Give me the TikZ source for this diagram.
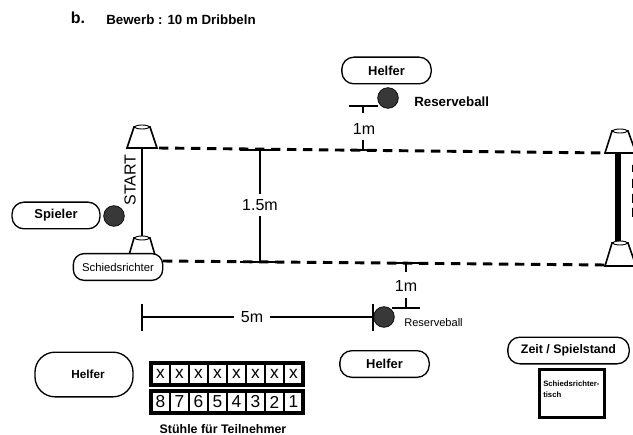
\documentclass[tikz,border=0pt]{standalone}
\usepackage{fontspec}
\setmainfont{Liberation Sans}
\tikzset{
  x=0.75pt,y=-0.75pt,
  pill/.style={draw,line width=1pt,rounded corners=9pt,inner sep=0pt,align=center,font=\bfseries\fontsize{9.7}{11}\selectfont,fill=white},
  ballnode/.style={circle,fill=black!78,draw=black,line width=.5pt,minimum size=15.5pt,inner sep=0pt},
  dashline/.style={line width=2.2pt,dash pattern=on 7pt off 5pt},
  thin line/.style={line width=1pt},
  cone/.style={draw,line width=1.2pt,fill=white},
  lab/.style={inner sep=0pt,font=\fontsize{12}{13}\selectfont},
  seat/.style={draw,line width=1.6pt,outer sep=0pt,minimum width=14.25pt,minimum height=16.5pt,inner sep=0pt,font=\fontsize{13}{14}\selectfont}
}
\begin{document}
\begin{tikzpicture}
\useasboundingbox[fill=white] (0,0) rectangle (633,435);
\clip (0,0) rectangle (633,435);
\node[inner sep=0pt,font=\bfseries\fontsize{12}{14}\selectfont] (b) at (78,18) {b.};
\node[inner sep=0pt,anchor=west,font=\bfseries\fontsize{10}{12}\selectfont] (title) at (106,19.5) {Bewerb : 10 m Dribbeln};
% field lines
\coordinate (tl) at (159,148); \coordinate (tr) at (605,153);
\coordinate (bl) at (163,261); \coordinate (br) at (605,265);
\draw[dashline] (tl) -- (tr);
\draw[dashline] (bl) -- (br);
% posts and cones
\coordinate (p1) at (142,148); \coordinate (p2) at (142,237);
\draw[line width=2pt] (p1) -- (p2);
\coordinate (p3) at (618,154); \coordinate (p4) at (618,243);
\draw[line width=3.8pt] (p3) -- (p4);
\draw[cone] (127,148) -- (134,127) -- (150,127) -- (157,148) -- cycle;
\draw[line width=.7pt,fill=white] (142,127) ellipse (7 and 2);
\draw[cone] (127,262) -- (134,238) -- (150,238) -- (157,262) -- cycle;
\draw[line width=.7pt,fill=white] (142,238) ellipse (7 and 2);
\draw[cone] (605,153) -- (612,131) -- (628,131) -- (636,153) -- cycle;
\draw[line width=.7pt,fill=white] (620,131) ellipse (7 and 2);
\draw[cone] (605,266) -- (612,243) -- (628,243) -- (636,266) -- cycle;
\draw[line width=.7pt,fill=white] (620,243) ellipse (7 and 2);
\node[rotate=90,inner sep=0pt,font=\fontsize{12}{13}\selectfont] (start) at (130,180) {START};
% pills
\node[pill,minimum width=66pt,minimum height=20pt] (spieler) at (56,215.5) {Spieler};
\node[ballnode] (ball1) at (114,216) {};
\node[pill,minimum width=67pt,minimum height=20pt,font=\fontsize{8.5}{10}\selectfont,rounded corners=8pt] (schied) at (118,267) {Schiedsrichter};
\node[pill,minimum width=67pt,minimum height=20pt] (helfer1) at (386.5,70.5) {Helfer};
\node[pill,minimum width=67pt,minimum height=20pt] (helfer2) at (384.5,364) {Helfer};
\node[pill,minimum width=73.5pt,minimum height=33.5pt,rounded corners=15pt,font=\bfseries\fontsize{8.8}{10}\selectfont] (helfer3) at (84,374.5) {\hspace{6pt}Helfer};
\node[pill,minimum width=91pt,minimum height=20pt,font=\bfseries\fontsize{9.3}{11}\selectfont] (zeit) at (568.5,350.5) {Zeit / Spielstand};
% top 1m
\node[ballnode] (ball2) at (388,98) {};
\node[inner sep=0pt,anchor=west,font=\bfseries\fontsize{10}{12}\selectfont] (rb1) at (414,101.5) {Reserveball};
\coordinate (a1) at (349,106); \coordinate (a2) at (378,106);
\coordinate (a3) at (363,106); \coordinate (a4) at (363,113);
\draw[thin line] (a1) -- (a2) (a3) -- (a4);
\node[lab] (m1) at (364,129) {1m};
\coordinate (a5) at (363,140); \coordinate (a6) at (363,150);
\coordinate (a7) at (350,150); \coordinate (a8) at (377,150);
\draw[thin line] (a5) -- (a6) (a7) -- (a8);
% bottom 1m
\coordinate (c1) at (406,263); \coordinate (c2) at (406,272);
\coordinate (c3) at (392,263); \coordinate (c4) at (420,263);
\draw[thin line] (c1) -- (c2) (c3) -- (c4);
\node[lab] (m2) at (406,286) {1m};
\coordinate (c5) at (406,298); \coordinate (c6) at (406,308);
\coordinate (c7) at (392,308); \coordinate (c8) at (420,308);
\draw[thin line] (c5) -- (c6) (c7) -- (c8);
\node[ballnode] (ball3) at (384,317) {};
\node[inner sep=0pt,anchor=west,font=\fontsize{8.3}{10}\selectfont] (rb2) at (404,322.5) {Reserveball};
% 5m
\coordinate (d1) at (142,304); \coordinate (d2) at (142,331);
\coordinate (d3) at (373,304); \coordinate (d4) at (373,331);
\coordinate (d5) at (142,317); \coordinate (d6) at (373,317);
\draw[thin line] (d1) -- (d2) (d3) -- (d4);
\node[lab,fill=white,inner xsep=5pt] (m5) at (252,317) {5m};
\draw[thin line] (d5) -- (m5) (m5) -- (d6);
% 1.5m
\coordinate (e1) at (260,150); \coordinate (e2) at (260,262);
\coordinate (e3) at (240,150); \coordinate (e4) at (280,150);
\coordinate (e5) at (240,262); \coordinate (e6) at (280,262);
\draw[thin line] (e3) -- (e4) (e5) -- (e6);
\node[lab,fill=white,inner ysep=4pt] (m15) at (260,205) {1.5m};
\draw[thin line] (e1) -- (m15) (m15) -- (e2);
% chairs
\foreach \i/\t/\u in {0/x/8,1/x/7,2/x/6,3/x/5,4/x/4,5/x/3,6/x/2,7/x/1}{
  \node[seat] (sx\i) at ({160.5+\i*19},374) {\t};
  \node[seat] (sn\i) at ({160.5+\i*19},402) {\u};
}
\draw[line width=2.4pt] (sx0.north west) rectangle (sx7.south east);
\draw[line width=2.4pt] (sn0.north west) rectangle (sn7.south east);
\node[inner sep=0pt,font=\bfseries\fontsize{9.3}{11}\selectfont] (st) at (223,429) {Stühle für Teilnehmer};
% table
\node[draw,line width=1.8pt,minimum width=49pt,minimum height=36pt,inner sep=0pt] (tisch) at (572,393.5) {};
\node[inner sep=0pt,anchor=west,align=left,font=\bfseries\fontsize{5.8}{8}\selectfont] (tt) at (543,389) {Schiedsrichter-\\tisch};
% cut-off text at right edge
\fill (632,165) rectangle (633,172) (632,179) rectangle (633,188) (632,194) rectangle (633,203) (632,208) rectangle (633,217);
\end{tikzpicture}
\end{document}
